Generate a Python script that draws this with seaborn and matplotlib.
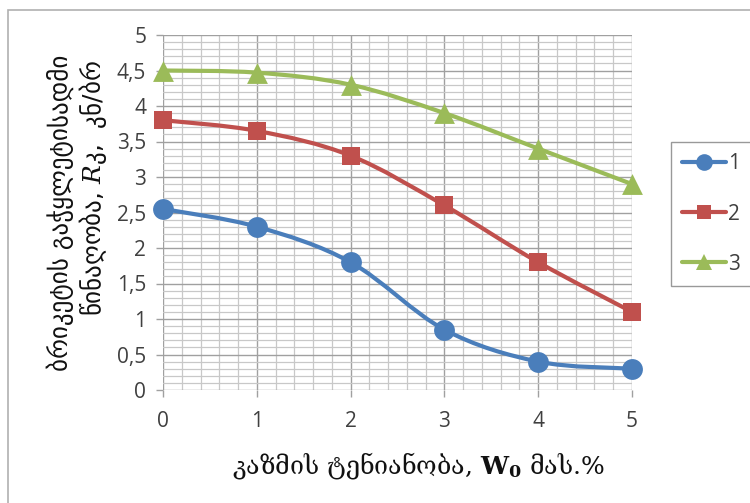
import numpy as np
import pandas as pd
import seaborn as sns
import matplotlib
matplotlib.use("Agg")
import matplotlib.pyplot as plt
from matplotlib.path import Path
from matplotlib.patches import PathPatch, Rectangle
from matplotlib.lines import Line2D
from matplotlib.ticker import MultipleLocator, FuncFormatter

# Moisture of the charge, W0 (mass %)
moisture = [0, 1, 2, 3, 4, 5]
# Briquette crushing resistance for three series
series_1 = [2.55, 2.3, 1.8, 0.85, 0.4, 0.3]
series_2 = [3.8, 3.65, 3.3, 2.6, 1.8, 1.1]
series_3 = [4.5, 4.47, 4.3, 3.9, 3.4, 2.9]
series_names = ["1", "2", "3"]

colors = ["#4A7EBB", "#C0504D", "#9BBB59"]
markers = ["o", "s", "^"]
marker_sizes = [15, 13, 15]

ylabel_lines = ["ბრიკეტის გაჭყლეტისადმი", "წინაღობა, $\\mathit{R}$კ,  კნ/ბრ"]
xlabel = "კაზმის ტენიანობა, $\\mathbf{W_0}$ მას.%"

df = pd.DataFrame({
    "W": moisture * 3,
    "R": series_1 + series_2 + series_3,
    "series": [n for n in series_names for _ in moisture],
})

sns.set_theme(style="white")
plt.rcParams["font.family"] = ["Open Sans", "DejaVu Sans"]
plt.rcParams["mathtext.fontset"] = "dejavuserif"

fig = plt.figure(figsize=(7.5, 5.03), dpi=100)
fig.patch.set_facecolor("white")
ax = fig.add_axes([163 / 750, 113 / 503, 469 / 750, 355 / 503])

# outer chart frame
fig.patches.append(Rectangle((8 / 750, -0.05), 1.2, 1 - 10 / 503 + 0.05,
                             transform=fig.transFigure, fill=False,
                             edgecolor="#b0b0b0", linewidth=1.2, zorder=-5))

ax.set_xlim(0, 5)
ax.set_ylim(0, 5)
ax.xaxis.set_major_locator(MultipleLocator(1))
ax.xaxis.set_minor_locator(MultipleLocator(0.2))
ax.yaxis.set_major_locator(MultipleLocator(0.5))
ax.yaxis.set_minor_locator(MultipleLocator(0.1))
ax.grid(which="major", color="#a0a0a0", linewidth=1.0, zorder=0)
ax.grid(which="minor", color="#c8c8c8", linewidth=0.9, zorder=0)
ax.set_axisbelow(True)
for s in ax.spines.values():
    s.set_visible(False)
ax.tick_params(which="major", length=5, width=1.0, color="#a0a0a0",
               labelsize=15, labelcolor="#404040", pad=7)
ax.tick_params(which="minor", length=0)
ax.tick_params(axis="x", bottom=True, pad=10)
ax.tick_params(axis="y", left=True)
ax.yaxis.set_major_formatter(FuncFormatter(lambda v, p: f"{v:g}".replace(".", ",")))
ax.xaxis.set_major_formatter(FuncFormatter(lambda v, p: f"{v:g}"))


def smooth_path(xs, ys):
    # Cardinal Bezier segments through the data points
    pts = np.column_stack([xs, ys]).astype(float)
    n = len(pts)
    verts = [pts[0]]
    codes = [Path.MOVETO]
    for i in range(n - 1):
        p0 = pts[max(i - 1, 0)]
        p1 = pts[i]
        p2 = pts[i + 1]
        p3 = pts[min(i + 2, n - 1)]
        c1 = p1 + (p2 - p0) / 6
        c2 = p2 - (p3 - p1) / 6
        verts += [c1, c2, p2]
        codes += [Path.CURVE4] * 3
    return Path(verts, codes)


for name, col in zip(series_names, colors):
    sub = df[df["series"] == name]
    ax.add_patch(PathPatch(smooth_path(sub["W"], sub["R"]), facecolor="none",
                           edgecolor=col, linewidth=3.0, capstyle="round",
                           zorder=3))

for name, col, mk, ms in zip(series_names, colors, markers, marker_sizes):
    sub = df[df["series"] == name]
    sns.scatterplot(data=sub, x="W", y="R", ax=ax, marker=mk, s=ms ** 2,
                    color=col, edgecolor=col, linewidth=0, zorder=4,
                    legend=False, clip_on=False)

ax.set_xlabel("")
ax.set_ylabel("")

handles = [Line2D([0], [0], color=c, marker=m, markersize=ms * 0.8,
                  linewidth=3.0, markeredgewidth=0)
           for c, m, ms in zip(colors, markers, marker_sizes)]
leg = fig.legend(handles, series_names, loc="upper left",
                 bbox_to_anchor=(671 / 750, 1 - 142 / 503),
                 frameon=True, fancybox=False, fontsize=15,
                 handlelength=2.1, handletextpad=0.1, labelspacing=1.4,
                 borderpad=0.55, borderaxespad=0)
leg.get_frame().set_edgecolor("#808080")
leg.get_frame().set_linewidth(1.0)
for t in leg.get_texts():
    t.set_color("#404040")

fig.text(60 / 750, 1 - 213 / 503, ylabel_lines[0], rotation=90,
         ha="center", va="center", fontsize=18, color="#111111",
         family=["DejaVu Sans"])
fig.text(93 / 750, 1 - 188 / 503, ylabel_lines[1], rotation=90,
         ha="center", va="center", fontsize=18, color="#111111",
         family=["DejaVu Sans"])
fig.text(418 / 750, 1 - 466 / 503, xlabel, ha="center", va="center",
         fontsize=18, color="#111111", family=["DejaVu Serif", "DejaVu Sans"])

fig.savefig("out.png", dpi=100, facecolor="white")
